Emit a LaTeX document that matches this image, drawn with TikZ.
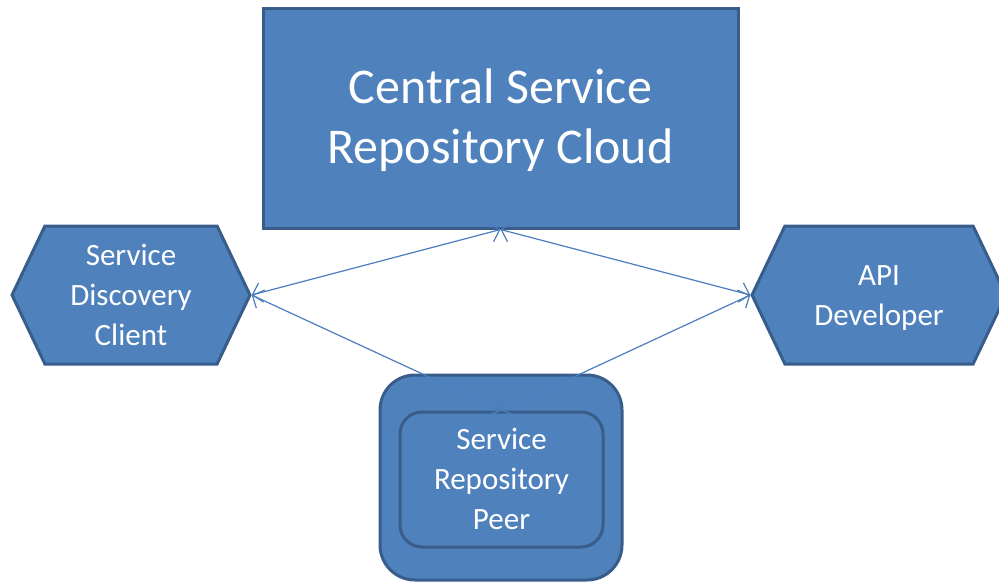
\documentclass[tikz,border=0pt]{standalone}
\usepackage{fontspec}
\setmainfont{Carlito}
\usepackage{tikz}
\usetikzlibrary{shapes.symbols,arrows.meta}
\definecolor{boxfill}{RGB}{79,129,189}
\definecolor{boxline}{RGB}{56,93,138}
\definecolor{linkline}{RGB}{74,126,190}
\newcommand{\boxstrut}{\rule[-0.24\baselineskip]{0pt}{\baselineskip}}
\tikzstyle{bluebox} = [fill=boxfill, draw=boxline, line width=3pt, text=white,
    align=center]
\tikzstyle{hexbox} = [bluebox, signal, signal to=east and west,
    signal pointer angle=129, minimum width=238pt, minimum height=138pt,
    font=\fontsize{31}{40}\selectfont]
\tikzstyle{link} = [draw=linkline, line width=1.2pt,
    {Straight Barb[length=9pt,width=20pt]}-{Straight Barb[length=9pt,width=20pt]}]

\begin{document}
\begin{tikzpicture}[x=1pt, y=-1pt]
                \useasboundingbox (0,0) rectangle (999,582);
                \node [bluebox, rectangle, minimum width=475pt, minimum height=220pt,
                    font=\fontsize{50}{60}\selectfont] (cloud) at (500.5,118)
                    {\boxstrut Central Service\\Repository Cloud\boxstrut};
                \node [hexbox] (discovery) at (131,295)
                    {\boxstrut Service\\Discovery\\Client\boxstrut};
                \node [hexbox, minimum width=254pt] (developer) at (879,295)
                    {\boxstrut API\\Developer\boxstrut};
                \node [bluebox, rectangle, rounded corners=35pt, minimum width=242pt,
                    minimum height=205pt] (peerouter) at (501,477.5) {};
                \node [bluebox, rectangle, rounded corners=22pt, minimum width=203pt,
                    minimum height=135pt, font=\fontsize{31}{40}\selectfont] (peer) at (501.5,479.5)
                    {\boxstrut Service\\Repository\\Peer\boxstrut};
                \draw [link] (cloud.south) -- (discovery.east);
                \draw [link] (cloud.south) -- (developer.west);
                \draw [link] (discovery.east) -- (peer.north);
                \draw [link] (developer.west) -- (peer.north);
            \end{tikzpicture}
\end{document}
